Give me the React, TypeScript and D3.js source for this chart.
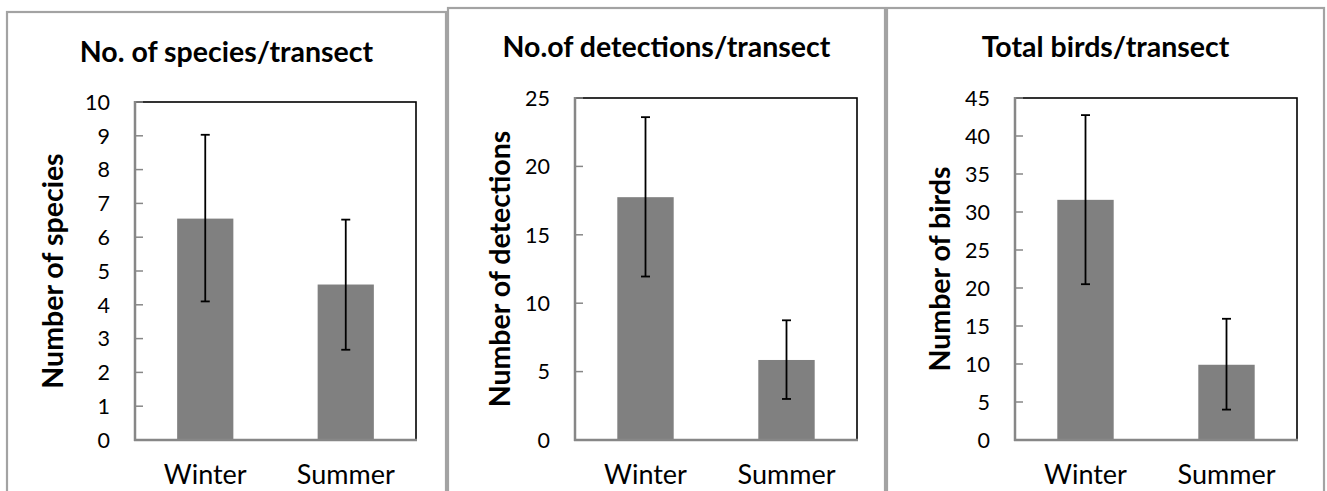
import React from 'react';
import * as d3 from 'd3';

// ---- data ----
const categories = ['Winter', 'Summer'];

const speciesTitle = 'No. of species/transect';
const speciesAxisTitle = 'Number of species';
const speciesMean = [6.55, 4.6];
const speciesLow = [4.1, 2.67];
const speciesHigh = [9.03, 6.52];
const speciesTicks = [0, 1, 2, 3, 4, 5, 6, 7, 8, 9, 10];

const detectionsTitle = 'No.of detections/transect';
const detectionsAxisTitle = 'Number of detections';
const detectionsMean = [17.75, 5.85];
const detectionsLow = [11.95, 3.0];
const detectionsHigh = [23.6, 8.75];
const detectionsTicks = [0, 5, 10, 15, 20, 25];

const birdsTitle = 'Total birds/transect';
const birdsAxisTitle = 'Number of birds';
const birdsMean = [31.6, 9.9];
const birdsLow = [20.5, 4.0];
const birdsHigh = [42.75, 15.95];
const birdsTicks = [0, 5, 10, 15, 20, 25, 30, 35, 40, 45];

const panelData = [
  { title: speciesTitle, axisTitle: speciesAxisTitle, mean: speciesMean, low: speciesLow, high: speciesHigh, ticks: speciesTicks },
  { title: detectionsTitle, axisTitle: detectionsAxisTitle, mean: detectionsMean, low: detectionsLow, high: detectionsHigh, ticks: detectionsTicks },
  { title: birdsTitle, axisTitle: birdsAxisTitle, mean: birdsMean, low: birdsLow, high: birdsHigh, ticks: birdsTicks },
];

// ---- layout ----
const layouts = [
  { bx: 7, by: 12, bw: 439, x0: 135, x1: 416, top: 102, bottom: 440, titleY: 62, axisX: 63 },
  { bx: 448, by: 8, bw: 437, x0: 575, x1: 857, top: 98, bottom: 440, titleY: 57, axisX: 510 },
  { bx: 887, by: 8, bw: 437, x0: 1015, x1: 1297, top: 98, bottom: 440, titleY: 57, axisX: 950 },
];

const FONT = "Lato, 'Open Sans', sans-serif";

function Panel({ d, l }: { d: typeof panelData[number]; l: typeof layouts[number] }) {
  const x = d3.scaleBand<string>().domain(categories).range([l.x0, l.x1]).paddingInner(0.6).paddingOuter(0.3);
  const yMax = d.ticks[d.ticks.length - 1];
  const y = d3.scaleLinear().domain([0, yMax]).range([l.bottom, l.top]);
  const cx = l.bx + l.bw / 2;
  const cap = 4.5;
  return (
    <g>
      <rect x={l.bx} y={l.by} width={l.bw} height={600} fill="#fff" stroke="#a3a3a3" strokeWidth={2.2} />
      <text x={cx} y={l.titleY} textAnchor="middle" fontWeight="bold" fontSize={28.5} fill="#000">{d.title}</text>
      {/* plot area border */}
      <rect x={l.x0} y={l.top} width={l.x1 - l.x0} height={l.bottom - l.top} fill="#fff" stroke="#000" strokeWidth={1.6} />
      {/* bars */}
      {categories.map((c, i) => (
        <rect key={c} x={x(c)} y={y(d.mean[i])} width={x.bandwidth()} height={y(0) - y(d.mean[i])} fill="#808080" />
      ))}
      {/* axes */}
      <line x1={l.x0} x2={l.x0} y1={l.top - 1} y2={l.bottom + 1} stroke="#878787" strokeWidth={2.5} />
      <line x1={l.x0 - 1} x2={l.x1 + 1} y1={l.bottom} y2={l.bottom} stroke="#878787" strokeWidth={2.5} />
      {d.ticks.map((t) => (
        <g key={t}>
          <line x1={l.x0} x2={l.x0 + 8} y1={y(t)} y2={y(t)} stroke="#878787" strokeWidth={1.5} />
          <text x={l.x0 - 25} y={y(t)} dy="0.36em" textAnchor="end" fontSize={21.5} fill="#000">{t}</text>
        </g>
      ))}
      {/* error bars */}
      {categories.map((c, i) => {
        const ex = (x(c) as number) + x.bandwidth() / 2;
        return (
          <g key={c} stroke="#000" strokeWidth={1.8}>
            <line x1={ex} x2={ex} y1={y(d.low[i])} y2={y(d.high[i])} />
            <line x1={ex - cap} x2={ex + cap} y1={y(d.low[i])} y2={y(d.low[i])} />
            <line x1={ex - cap} x2={ex + cap} y1={y(d.high[i])} y2={y(d.high[i])} />
          </g>
        );
      })}
      {categories.map((c) => (
        <text key={c} x={(x(c) as number) + x.bandwidth() / 2} y={484} textAnchor="middle" fontSize={27} fill="#000">{c}</text>
      ))}
      <text transform={`translate(${l.axisX},${(l.top + l.bottom) / 2}) rotate(-90)`} textAnchor="middle" fontWeight="bold" fontSize={28.5} fill="#000">{d.axisTitle}</text>
    </g>
  );
}

export default function App() {
  return (
    <svg width={1327} height={491} style={{ position: 'absolute', left: 0, top: 0, background: '#fff' }} fontFamily={FONT}>
      <rect x={0} y={0} width={1327} height={491} fill="#fff" />
      {panelData.map((d, i) => (
        <Panel key={i} d={d} l={layouts[i]} />
      ))}
    </svg>
  );
}
